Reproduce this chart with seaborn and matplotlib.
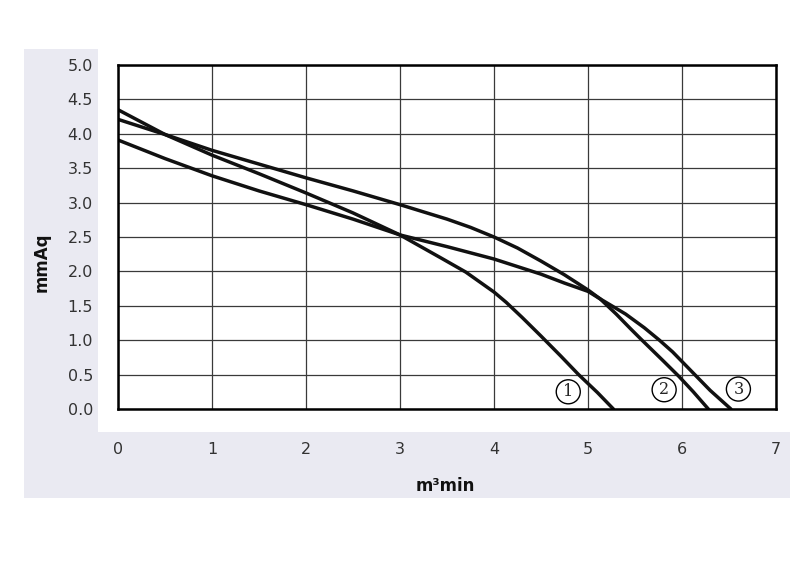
import numpy as np
import pandas as pd
from matplotlib import pyplot as plt
from matplotlib.patches import Rectangle
import seaborn as sns

# P-Q curves (flow in m3/min, pressure in mmAq)
flow_1 = [0.0, 0.5, 1.0, 1.5, 2.0, 2.5, 3.0, 3.43, 3.7, 4.0, 4.13, 4.3, 4.5, 4.71, 4.9, 5.1, 5.27]
pressure_1 = [4.35, 3.99, 3.69, 3.42, 3.14, 2.85, 2.53, 2.2, 1.99, 1.7, 1.55, 1.33, 1.06, 0.77, 0.5, 0.24, 0.0]

flow_2 = [0.0, 0.5, 1.0, 1.5, 2.0, 2.5, 3.0, 3.5, 3.75, 4.0, 4.25, 4.5, 4.75, 5.0, 5.13, 5.3,
          5.45, 5.56, 5.8, 5.97, 6.12, 6.28]
pressure_2 = [4.21, 3.99, 3.76, 3.56, 3.36, 3.17, 2.97, 2.76, 2.64, 2.5, 2.34, 2.15, 1.95, 1.73, 1.6, 1.38,
              1.17, 1.02, 0.7, 0.47, 0.25, 0.0]

flow_3 = [0.0, 0.5, 1.0, 1.5, 2.0, 2.5, 3.0, 3.5, 4.0, 4.5, 4.75, 5.0, 5.13, 5.4, 5.6, 5.76,
          5.9, 6.0, 6.1, 6.3, 6.52]
pressure_3 = [3.91, 3.64, 3.39, 3.17, 2.97, 2.76, 2.53, 2.36, 2.18, 1.96, 1.83, 1.71, 1.6, 1.38, 1.18, 1.0,
              0.83, 0.69, 0.55, 0.27, 0.0]

curve_names = ["1", "2", "3"]
x_ticks = [0, 1, 2, 3, 4, 5, 6, 7]
y_ticks = [0.0, 0.5, 1.0, 1.5, 2.0, 2.5, 3.0, 3.5, 4.0, 4.5, 5.0]

df = pd.concat([
    pd.DataFrame({"flow": f, "pressure": p, "curve": n})
    for f, p, n in zip([flow_1, flow_2, flow_3],
                       [pressure_1, pressure_2, pressure_3], curve_names)
])

sns.set_theme(style="white")
plt.rcParams["font.family"] = ["DejaVu Sans"]

W, H = 800, 566
fig = plt.figure(figsize=(8, 5.66), dpi=100, facecolor="white")

# grey L-shaped backdrop behind the tick labels
bg = "#EAEAF2"
fig.add_artist(Rectangle((24 / W, 1 - 432 / H), (98 - 24) / W, (432 - 49) / H,
                         transform=fig.transFigure, fc=bg, ec="none", zorder=-5))
fig.add_artist(Rectangle((24 / W, 1 - 498 / H), (790 - 24) / W, (498 - 432) / H,
                         transform=fig.transFigure, fc=bg, ec="none", zorder=-5))

ax = fig.add_axes([118 / W, 1 - 409 / H, (776 - 118) / W, (409 - 65) / H])
ax.set_facecolor("white")

sns.lineplot(data=df, x="flow", y="pressure", hue="curve",
             palette=["#111111"] * 3, linewidth=2.5, legend=False,
             estimator=None, sort=True, ax=ax, zorder=3)

ax.set_xlim(0, 7)
ax.set_ylim(0, 5)
ax.set_xticks(x_ticks)
ax.set_xticklabels([str(t) for t in x_ticks])
ax.set_yticks(y_ticks)
ax.set_yticklabels([f"{t:.1f}" for t in y_ticks])
ax.tick_params(axis="both", length=0, labelsize=11.5, colors="#333333")
ax.tick_params(axis="y", pad=18)
ax.tick_params(axis="x", pad=24)

ax.grid(True, color="#3a3a3a", linewidth=0.9)
for s in ax.spines.values():
    s.set_color("black")
    s.set_linewidth(1.8)
    s.set_zorder(4)

ax.set_xlabel("")
ax.set_ylabel("")

# circled curve numbers
for x, y, n in [(4.79, 0.25, "1"), (5.81, 0.28, "2"), (6.6, 0.29, "3")]:
    ax.text(x, y, n, ha="center", va="center", fontsize=11.5, family="serif",
            zorder=5, bbox=dict(boxstyle="circle,pad=0.22", fc="white", ec="black", lw=1))

fig.text(42 / W, 1 - 262 / H, "mmAq", rotation=90, ha="center", va="center",
         fontsize=12, fontweight="bold", color="#111111")
fig.text(445 / W, 1 - 486 / H, "m³min", ha="center", va="center",
         fontsize=12, fontweight="bold", color="#111111")

plt.savefig("out.png", dpi=100)
